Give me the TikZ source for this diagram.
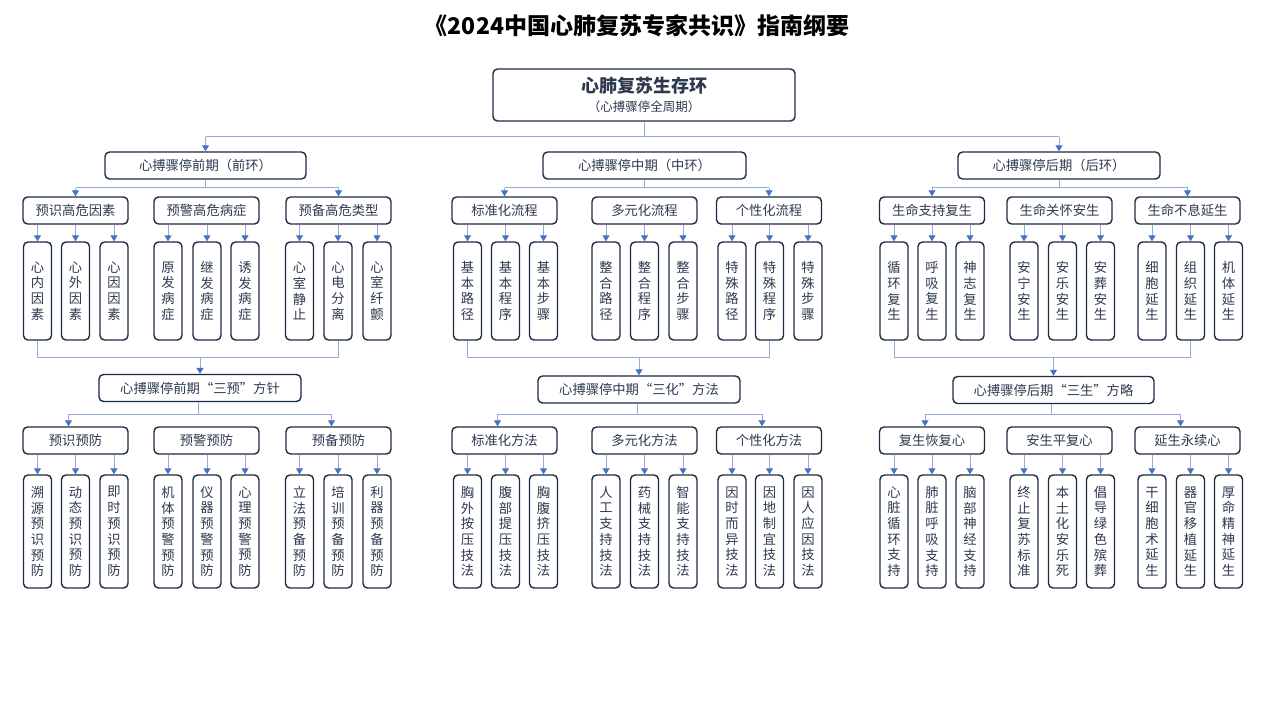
\documentclass[tikz,border=0pt]{standalone}
\usepackage{fontspec}
\setmainfont{Noto Sans CJK SC}
\usetikzlibrary{arrows.meta}
\definecolor{boxc}{HTML}{1F2B45}
\definecolor{txtc}{HTML}{2E3A50}
\definecolor{linec}{HTML}{93ABD9}
\definecolor{tipc}{HTML}{4472C4}
\tikzset{
  bx/.style={draw=boxc, line width=1.4pt, rounded corners=4.5pt, fill=white, text=txtc,
    inner sep=0pt, align=center, font=\fontsize{13.3}{15.7}\selectfont},
  hbox/.style={bx, minimum width=#1, minimum height=27pt},
  leafu/.style={bx, minimum width=28pt, minimum height=98pt},
  leafl/.style={bx, minimum width=28pt, minimum height=113pt},
  ln/.style={draw=linec, line width=1pt},
  arr/.style={ln, -{Triangle[length=6pt, width=7pt, color=tipc]}},
}
\begin{document}
\begin{tikzpicture}[x=1pt, y=-1pt]
\fill[white] (0,0) rectangle (1268,714);
\useasboundingbox (0,0) rectangle (1268,714);

% title
\node[font=\fontsize{23}{26}\selectfont\bfseries, text=black, inner sep=0pt] (title) at (637,26) {《2024中国心肺复苏专家共识》指南纲要};

% root
\node[bx, minimum width=302pt, minimum height=52pt] (root) at (644,95)
  {{\fontsize{18}{20}\selectfont\bfseries 心肺复苏生存环}\\[3.5pt]{\fontsize{12.5}{14}\selectfont （心搏骤停全周期）}};

% level 1
\node[hbox=201pt] (LA) at (205.5,165.5) {心搏骤停前期（前环）};
\node[hbox=203pt] (LB) at (644.5,165.5) {心搏骤停中期（中环）};
\node[hbox=202pt] (LC) at (1059,165.5) {心搏骤停后期（后环）};

% upper level 2 and lower level 2
\foreach \n/\x/\t/\s in {A1/75.5/预识高危因素/预识预防, A2/206.5/预警高危病症/预警预防, A3/338.5/预备高危类型/预备预防,
  B1/504.5/标准化流程/标准化方法, B2/644.5/多元化流程/多元化方法, B3/769/个性化流程/个性化方法,
  C1/932/生命支持复生/复生恢复心, C2/1059.5/生命关怀安生/安生平复心, C3/1187.5/生命不息延生/延生永续心}
{
  \node[hbox=105pt] (u\n) at (\x,210.5) {\t};
  \node[hbox=105pt] (d\n) at (\x,440.5) {\s};
}

% upper leaves
\foreach \n/\x/\t in {
  A1/37.5/心\\内\\因\\素, A2/75.5/心\\外\\因\\素, A3/114/心\\因\\因\\素,
  A4/168/原\\发\\病\\症, A5/207/继\\发\\病\\症, A6/245/诱\\发\\病\\症,
  A7/299.5/心\\室\\静\\止, A8/338/心\\电\\分\\离, A9/377/心\\室\\纤\\颤,
  B1/467.5/基\\本\\路\\径, B2/505.5/基\\本\\程\\序, B3/543.5/基\\本\\步\\骤,
  B4/606/整\\合\\路\\径, B5/644.5/整\\合\\程\\序, B6/683/整\\合\\步\\骤,
  B7/732/特\\殊\\路\\径, B8/769.5/特\\殊\\程\\序, B9/808/特\\殊\\步\\骤,
  C1/894/循\\环\\复\\生, C2/932/呼\\吸\\复\\生, C3/970/神\\志\\复\\生,
  C4/1024/安\\宁\\安\\生, C5/1062.5/安\\乐\\安\\生, C6/1100.5/安\\葬\\安\\生,
  C7/1152/细\\胞\\延\\生, C8/1190.5/组\\织\\延\\生, C9/1228.5/机\\体\\延\\生}
  \node[leafu] (p\n) at (\x,291) {\t};

% lower leaves
\foreach \n/\x/\t in {
  A1/37.5/溯\\源\\预\\识\\预\\防, A2/75.5/动\\态\\预\\识\\预\\防, A3/114/即\\时\\预\\识\\预\\防,
  A4/168/机\\体\\预\\警\\预\\防, A5/207/仪\\器\\预\\警\\预\\防, A6/245/心\\理\\预\\警\\预\\防,
  A7/299.5/立\\法\\预\\备\\预\\防, A8/338/培\\训\\预\\备\\预\\防, A9/377/利\\器\\预\\备\\预\\防,
  B1/467.5/胸\\外\\按\\压\\技\\法, B2/505.5/腹\\部\\提\\压\\技\\法, B3/543.5/胸\\腹\\挤\\压\\技\\法,
  B4/606/人\\工\\支\\持\\技\\法, B5/644.5/药\\械\\支\\持\\技\\法, B6/683/智\\能\\支\\持\\技\\法,
  B7/732/因\\时\\而\\异\\技\\法, B8/769.5/因\\地\\制\\宜\\技\\法, B9/808/因\\人\\应\\因\\技\\法,
  C1/894/心\\脏\\循\\环\\支\\持, C2/932/肺\\脏\\呼\\吸\\支\\持, C3/970/脑\\部\\神\\经\\支\\持,
  C4/1024/终\\止\\复\\苏\\标\\准, C5/1062.5/本\\土\\化\\安\\乐\\死, C6/1100.5/倡\\导\\绿\\色\\殡\\葬,
  C7/1152/干\\细\\胞\\术\\延\\生, C8/1190.5/器\\官\\移\\植\\延\\生, C9/1228.5/厚\\命\\精\\神\\延\\生}
  \node[leafl] (q\n) at (\x,531.5) {\t};

% middle level
\node[hbox=202pt] (mA) at (200,388) {心搏骤停前期“三预”方针};
\node[hbox=202pt] (mB) at (639,389.5) {心搏骤停中期“三化”方法};
\node[hbox=201pt] (mC) at (1053.5,390) {心搏骤停后期“三生”方略};

% root -> level 1
\draw[ln] (root.south) -- (root.south |- 0,137);
\draw[ln] (LA.north |- 0,137) -- (LC.north |- 0,137);
\draw[arr] (LA.north |- 0,137) -- (LA.north);
\draw[arr] (LC.north |- 0,137) -- (LC.north);

\foreach \g in {A,B,C}{
  % level 1 -> upper level 2
  \draw[ln] (L\g.south) -- (L\g.south |- 0,188);
  \draw[ln] (u\g1.north |- 0,188) -- (u\g3.north |- 0,188);
  \draw[arr] (u\g1.north |- 0,188) -- (u\g1.north);
  \draw[arr] (u\g3.north |- 0,188) -- (u\g3.north);
  % leaves -> middle
  \draw[ln] (p\g1.south) -- (p\g1.south |- 0,357.5) -- (p\g8.south |- 0,357.5) -- (p\g8.south);
  \draw[arr] (m\g.north |- 0,357.5) -- (m\g.north);
  % middle -> lower level 2
  \draw[ln] ([xshift=-2pt]m\g.south) -- ([xshift=-2pt]m\g.south |- 0,414);
  \draw[ln] ([xshift=-7pt]d\g1.north |- 0,414) -- ([xshift=-7pt]d\g3.north |- 0,414);
  \draw[arr] ([xshift=-7pt]d\g1.north |- 0,414) -- ([xshift=-7pt]d\g1.north);
  \draw[arr] ([xshift=-7pt]d\g3.north |- 0,414) -- ([xshift=-7pt]d\g3.north);
  % level 2 -> leaves
  \foreach \i/\j in {1/1,2/1,3/1,4/2,5/2,6/2,7/3,8/3,9/3}{
    \draw[arr] (p\g\i.north |- u\g\j.south) -- (p\g\i.north);
    \draw[arr] (q\g\i.north |- d\g\j.south) -- (q\g\i.north);
  }
}
\end{tikzpicture}
\end{document}
